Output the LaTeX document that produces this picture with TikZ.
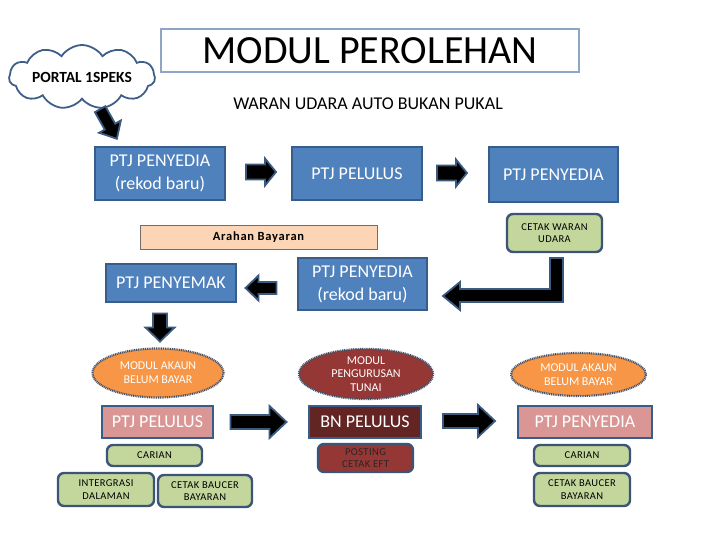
\documentclass[tikz,border=0pt]{standalone}
\usepackage{fontspec}
\setmainfont{Carlito}
\usetikzlibrary{shapes.geometric,shapes.symbols}
\definecolor{boxblue}{HTML}{4F81BD}
\definecolor{boxborder}{HTML}{385D8A}
\definecolor{titleborder}{HTML}{8EA6C6}
\definecolor{cloudborder}{HTML}{3E5F8A}
\definecolor{greenfill}{HTML}{C3D69B}
\definecolor{gborder}{HTML}{3C5577}
\definecolor{peach}{HTML}{FBD5B5}
\definecolor{peachborder}{HTML}{6E6E6E}
\definecolor{orangefill}{HTML}{F79646}
\definecolor{darkred}{HTML}{953735}
\definecolor{pinkfill}{HTML}{D99694}
\definecolor{maroon}{HTML}{632523}
\definecolor{dotborder}{HTML}{45536A}
\definecolor{arrowborder}{HTML}{3B5A80}
\newcommand\barrow[7]{% cx cy angle length shaft head headlen
  \draw[blockarrow, shift={(#1,#2)}, rotate=#3]
    (-#4/2,-#5/2) -- (#4/2-#7,-#5/2) -- (#4/2-#7,-#6/2) -- (#4/2,0)
    -- (#4/2-#7,#6/2) -- (#4/2-#7,#5/2) -- (-#4/2,#5/2) -- cycle;}
\tikzset{
  sz/.style n args={2}{minimum width=#1pt, minimum height=#2pt},
  bluebox/.style={rectangle, draw=boxborder, fill=boxblue, line width=2.2pt,
    text=white, align=center, inner sep=0pt, font=\fontsize{18}{23}\selectfont},
  pinkbox/.style={bluebox, fill=pinkfill},
  maroonbox/.style={bluebox, fill=maroon},
  greenbox/.style={rectangle, rounded corners=6pt, draw=gborder, fill=greenfill,
    line width=2.4pt, text=black, align=center, inner sep=0pt,
    font=\fontsize{10.5}{12.5}\selectfont\addfontfeatures{LetterSpace=4}},
  redbox/.style={greenbox, fill=darkred, text=black!85},
  modell/.style={ellipse, draw=dotborder, line width=2.2pt,
    dash pattern=on 1pt off 0.8pt, text=white, align=center, inner sep=0pt,
    font=\fontsize{12}{13.8}\selectfont},
  blockarrow/.style={fill=black, draw=arrowborder, line width=1.8pt, line join=miter},
}
\begin{document}
\begin{tikzpicture}[x=1pt,y=-1pt]
\useasboundingbox[fill=white] (0,0) rectangle (720,540);

% title and cloud
\node[rectangle, draw=titleborder, line width=2.6pt, fill=white, sz={418}{43},
  font=\fontsize{40}{44}\selectfont] (title) at (370,50.5) {MODUL PEROLEHAN};
\node[cloud, cloud puffs=11, cloud puff arc=115, cloud ignores aspect,
  draw=cloudborder, line width=1.8pt, fill=white, sz={146}{64}, inner sep=0pt,
  font=\bfseries\fontsize{15.5}{17}\selectfont] (portal) at (82,77) {PORTAL 1SPEKS};
\node[font=\fontsize{18}{20}\selectfont] (sub) at (368,104) {WARAN UDARA AUTO BUKAN PUKAL};

% row 1
\node[bluebox, sz={130}{53}] (b1) at (160,173.5) {PTJ PENYEDIA\\(rekod baru)};
\node[bluebox, sz={130}{53}] (b2) at (357,173.5) {PTJ PELULUS};
\node[bluebox, sz={129}{55}] (b3) at (553.5,174.5) {PTJ PENYEDIA};
\node[greenbox, sz={95}{38}] (cw) at (554.5,233) {CETAK WARAN\\UDARA};
\node[rectangle, draw=peachborder, line width=0.8pt, fill=peach, sz={237}{24},
  inner sep=0pt, font=\bfseries\fontsize{12.5}{14}\selectfont\addfontfeatures{LetterSpace=6}] (arahan) at (258.5,237) {Arahan Bayaran};

% row 2
\node[bluebox, sz={129}{52}] (b4) at (362.5,284) {PTJ PENYEDIA\\(rekod baru)};
\node[bluebox, sz={130}{38}] (b5) at (171,283) {PTJ PENYEMAK};

% ellipses
\node[modell, fill=orangefill, sz={131}{49}] (e1) at (158,373) {MODUL AKAUN\\BELUM BAYAR};
\node[modell, fill=darkred, sz={134}{50}] (e2) at (366,374) {MODUL\\PENGURUSAN\\TUNAI};
\node[modell, fill=orangefill, sz={135}{43}] (e3) at (578.5,374.5) {MODUL AKAUN\\BELUM BAYAR};

% row 3
\node[pinkbox, sz={111}{32}] (p1) at (157.5,422) {PTJ PELULUS};
\node[maroonbox, sz={112}{32}] (p2) at (365,422) {BN PELULUS};
\node[pinkbox, sz={134}{32}] (p3) at (585,422) {PTJ PENYEDIA};
\node[greenbox, sz={95}{21}] (g1) at (154.5,455.5) {CARIAN};
\node[greenbox, sz={96}{33}] (g2) at (106,489.5) {INTERGRASI\\DALAMAN};
\node[greenbox, sz={94}{32}] (g3) at (205,491) {CETAK BAUCER\\BAYARAN};
\node[redbox, sz={95}{28}] (r1) at (365.5,458) {POSTING\\CETAK EFT};
\node[greenbox, sz={96}{21}] (g4) at (582,455.5) {CARIAN};
\node[greenbox, sz={96}{33}] (g5) at (582,489.5) {CETAK BAUCER\\BAYARAN};

% block arrows
\barrow{108.5}{124}{-60.5}{34}{12}{25}{14}
\barrow{261}{172}{0}{30}{15}{27}{11}
\barrow{452}{173}{0}{30}{15}{27}{11}
\barrow{261}{288}{180}{31}{12}{25}{13}
\barrow{160}{327.5}{-90}{28}{14}{29}{14}
\barrow{258.5}{422}{0}{56}{14}{32}{17}
\barrow{469}{421}{0}{52}{14}{32}{17}
\draw[blockarrow] (550,258) -- (563,258) -- (563,302) -- (460,302) -- (460,310)
  -- (443,296) -- (460,282) -- (460,289) -- (550,289) -- cycle;
\end{tikzpicture}
\end{document}
